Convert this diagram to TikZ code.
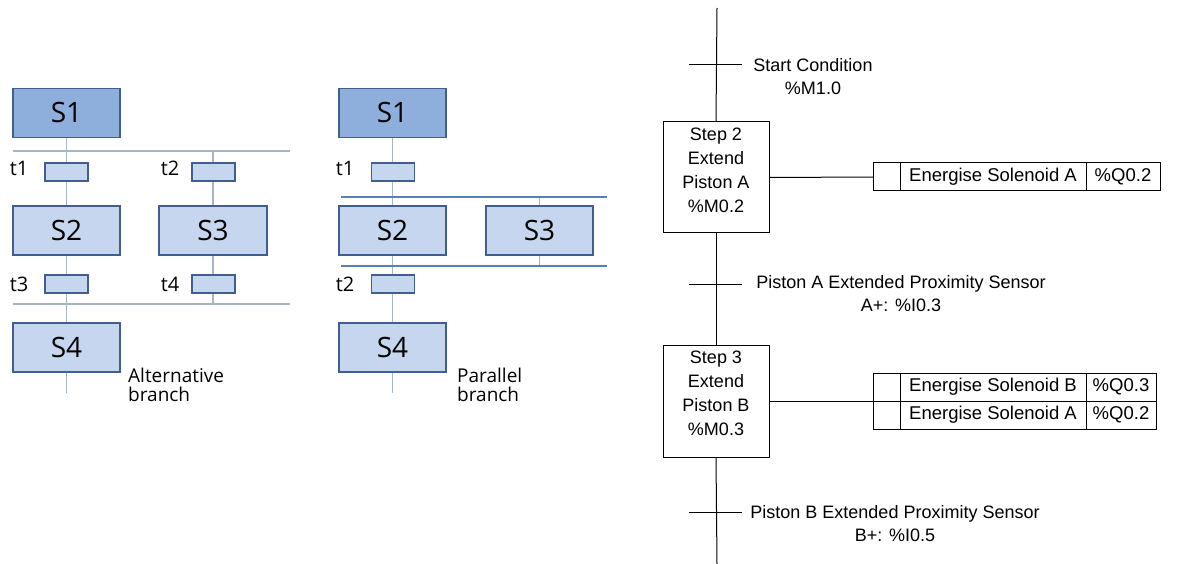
\documentclass[tikz,border=0pt]{standalone}
\usepackage{fontspec}
\setmainfont{Liberation Sans}
\newfontfamily\sfcfont{Open Sans}
\usetikzlibrary{positioning}
\usetikzlibrary{backgrounds}

\definecolor{stepdark}{RGB}{142,175,220}
\definecolor{steplight}{RGB}{198,214,239}
\definecolor{stepborder}{RGB}{63,95,143}
\definecolor{flowgrey}{RGB}{169,180,194}
\definecolor{flowblue}{RGB}{88,128,180}

\tikzset{
  sfcstep/.style={draw=stepborder, line width=1.4pt, fill=steplight, inner sep=0pt,
    minimum width=107pt, minimum height=49pt, font=\sfcfont\fontsize{28}{30}\selectfont},
  sfcinit/.style={sfcstep, fill=stepdark},
  sfctrans/.style={draw=stepborder, line width=1.2pt, fill=steplight, inner sep=0pt,
    minimum width=43pt, minimum height=18pt},
  tlabel/.style={font=\sfcfont\fontsize{20}{22}\selectfont, inner sep=0pt},
  blabel/.style={font=\sfcfont\fontsize{19}{19}\selectfont, align=left, anchor=north west, inner sep=0pt},
  flow/.style={draw=flowgrey, line width=1.2pt},
  pbar/.style={draw=flowblue, line width=1.6pt},
  gstep/.style={draw, line width=1pt, inner sep=0pt, minimum width=106pt},
  gtext/.style={align=center, inner sep=0pt, font=\fontsize{18}{24}\selectfont},
  acell/.style={draw, line width=1pt, inner sep=0pt, outer sep=0pt, minimum height=28pt,
    font=\fontsize{18.5}{20}\selectfont},
  cond/.style={align=center, anchor=north, inner sep=0pt, font=\fontsize{18}{23}\selectfont},
}

\begin{document}
\begin{tikzpicture}[x=1pt,y=-1pt]

\useasboundingbox (0,0) rectangle (1192,564);

% alternative branch
\node[sfcinit] (aS1) at (66.5,113) {S1};
\node[sfctrans] (at1) at (66.5,172) {};
\node[sfctrans] (at2) at (213.5,172) {};
\node[sfcstep] (aS2) at (66.5,230.5) {S2};
\node[sfcstep, minimum width=108pt] (aS3) at (213,230.5) {S3};
\node[sfctrans] (at3) at (66.5,284) {};
\node[sfctrans] (at4) at (213.5,284) {};
\node[sfcstep] (aS4) at (66.5,347.5) {S4};

\node[tlabel] at (19,168) {t1};
\node[tlabel] at (170,168) {t2};
\node[tlabel] at (19,284) {t3};
\node[tlabel] at (170,284) {t4};
\node[blabel] at (128,368) {Alternative\\branch};

\coordinate (aTopL) at (13,151);
\coordinate (aTopR) at (290,151);
\coordinate (aBotL) at (13,304);
\coordinate (aBotR) at (290,304);
\coordinate (aEnd) at (66.5,393);

\begin{scope}[on background layer]
\draw[flow] (aTopL) -- (aTopR);
\draw[flow] (aBotL) -- (aBotR);
\draw[flow] (aS1.south) -- (aS2.north);
\draw[flow] (aS2.south) -- (aS4.north);
\draw[flow] (aS4.south) -- (aEnd);
\draw[flow] (aS3.north |- aTopL) -- (aS3.north);
\draw[flow] (aS3.south) -- (aS3.south |- aBotL);
\end{scope}

% parallel branch
\node[sfcinit] (pS1) at (392.5,113) {S1};
\node[sfctrans] (pt1) at (393,172) {};
\node[sfcstep] (pS2) at (392.5,230.5) {S2};
\node[sfcstep] (pS3) at (539.5,230.5) {S3};
\node[sfctrans] (pt2) at (393,284) {};
\node[sfcstep] (pS4) at (392.5,347.5) {S4};

\node[tlabel] at (345,168) {t1};
\node[tlabel] at (345,284) {t2};
\node[blabel] at (457,368) {Parallel\\branch};

\coordinate (pTopL) at (341,197);
\coordinate (pTopR) at (607,197);
\coordinate (pBotL) at (341,266);
\coordinate (pBotR) at (607,266);
\coordinate (pEnd) at (392.5,393);

\begin{scope}[on background layer]
\draw[flow] (pS1.south) -- (pS4.north);
\draw[flow] (pS4.south) -- (pEnd);
\draw[flow] (pS3.north |- pTopL) -- (pS3.north);
\draw[flow] (pS3.south) -- (pS3.south |- pBotL);
\end{scope}
\draw[pbar] (pTopL) -- (pTopR);
\draw[pbar] (pBotL) -- (pBotR);

% grafcet
\node[gstep, minimum height=111pt] (g2) at (716,177.5) {};
\node[gtext] (g2t) at ([yshift=7.5pt]g2.center) {Step 2\\Extend\\Piston A\\\%M0.2};
\node[gstep, minimum height=112pt] (g3) at (716,401) {};
\node[gtext] (g3t) at ([yshift=8pt]g3.center) {Step 3\\Extend\\Piston B\\\%M0.3};

\coordinate (gTop) at (717,8);
\coordinate (gBot) at (717,564);
\coordinate (tr1) at (717,65);
\coordinate (tr2) at (717,285);
\coordinate (tr3) at (717,512);

\draw[line width=1pt] (gTop) -- (g2.north);
\draw[line width=1pt] (g2.south) -- (g3.north);
\draw[line width=1pt] (g3.south) -- (gBot);

\begin{scope}[line width=1pt]
\draw ([xshift=-28pt]tr1) -- ([xshift=25pt]tr1);
\draw ([xshift=-28pt]tr2) -- ([xshift=25pt]tr2);
\draw ([xshift=-28pt]tr3) -- ([xshift=25pt]tr3);
\end{scope}

\node[cond] (c1) at (813,58.5) {Start Condition\\\%M1.0};
\node[cond] (c2) at (901,275.5) {Piston A Extended Proximity Sensor\\A+: \%I0.3};
\node[cond] (c3) at (895,505.5) {Piston B Extended Proximity Sensor\\B+: \%I0.5};

% actions
\node[acell, minimum width=27pt, anchor=west] (a2q) at (873,177) {};
\node[acell, minimum width=186pt, right=0pt of a2q] (a2n) {Energise Solenoid A};
\node[acell, minimum width=74pt, right=0pt of a2n] (a2v) {\%Q0.2};

\node[acell, minimum width=27pt, anchor=west] (b3q) at (873,387) {};
\node[acell, minimum width=186pt, right=0pt of b3q] (b3n) {Energise Solenoid B};
\node[acell, minimum width=70pt, right=0pt of b3n] (b3v) {\%Q0.3};
\node[acell, minimum width=27pt, below=0pt of b3q] (c3q) {};
\node[acell, minimum width=186pt, right=0pt of c3q] (c3n) {Energise Solenoid A};
\node[acell, minimum width=70pt, right=0pt of c3n] (c3v) {\%Q0.2};

\draw[line width=1pt] (g2.east) -- (a2q.west);
\draw[line width=1pt] (g3.east) -- (b3q.south west);

\end{tikzpicture}
\end{document}
